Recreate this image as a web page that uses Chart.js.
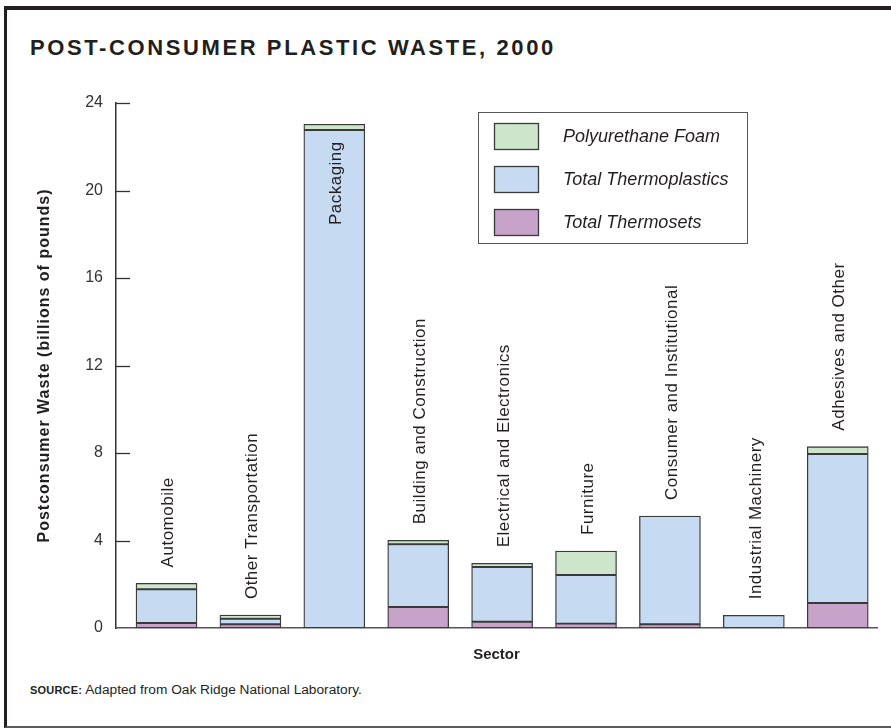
<!DOCTYPE html>
<html>
<head>
<meta charset="utf-8">
<title>Post-Consumer Plastic Waste, 2000</title>
<script src="https://cdn.jsdelivr.net/npm/chart.js@4.4.0/dist/chart.umd.min.js"></script>
<style>
  html, body { margin: 0; padding: 0; background: #fff; }
  body { width: 891px; height: 728px; position: relative; overflow: hidden;
         font-family: "Liberation Sans", Arial, sans-serif; color: #231f20; }
  .frame { position: absolute; left: 4px; top: 6px; right: 0; bottom: 0;
           border-top: 4px solid #231f20; border-left: 3px solid #231f20; border-bottom: 2px solid #5a5a5a; }
  .title { position: absolute; left: 30px; top: 37px; font-weight: bold; font-size: 22px;
           line-height: 22px; letter-spacing: 2.6px; white-space: nowrap; }
  .source { position: absolute; left: 30px; top: 683px; font-size: 13.7px; line-height: 14px; white-space: nowrap; }
  .source b { font-size: 11px; letter-spacing: 0.2px; }
  .wrap { position: absolute; left: 0; top: 0; width: 891px; height: 728px; }
</style>
</head>
<body>
<div class="frame"></div>
<div class="title">POST-CONSUMER PLASTIC WASTE, 2000</div>
<div class="source"><b>SOURCE:</b> Adapted from Oak Ridge National Laboratory.</div>
<div class="wrap"><canvas id="chart"></canvas></div>

<script>
// billions of pounds
const sectors = [
  "Automobile", "Other Transportation", "Packaging", "Building and Construction",
  "Electrical and Electronics", "Furniture", "Consumer and Institutional",
  "Industrial Machinery", "Adhesives and Other"
]
const thermosets     = [0.23, 0.17, 0,     0.96, 0.29, 0.20, 0.17, 0,    1.14]
const thermoplastics = [1.54, 0.25, 22.77, 2.87, 2.50, 2.22, 4.95, 0.58, 6.81]
const foam           = [0.27, 0.17, 0.26,  0.18, 0.17, 1.10, 0,    0,    0.34]
const yTicks = [0, 4, 8, 12, 16, 20, 24]
const yTitle = "Postconsumer Waste (billions of pounds)"

const ink = "#231f20"
const fontFamily = '"Liberation Sans", Arial, sans-serif'

// bars sit on a linear x axis so the first bar can start a bit right of the y axis
const points = arr => arr.map((v, i) => ({ x: i, y: v }))

// tick marks point into the plot, not outward
const inwardTicks = {
  id: "inwardTicks",
  afterDraw(chart, args, opts) {
    const y = chart.scales.y
    const ctx = chart.ctx
    ctx.save()
    ctx.strokeStyle = opts.color
    ctx.lineWidth = opts.width
    y.ticks.forEach(t => {
      if (t.value === 0) return
      const py = Math.round(y.getPixelForValue(t.value)) + 0.5
      ctx.beginPath()
      ctx.moveTo(chart.chartArea.left, py)
      ctx.lineTo(chart.chartArea.left + opts.length, py)
      ctx.stroke()
    })
    ctx.restore()
  }
}

// y axis title, drawn by hand so it can be letter-spaced like the original
const spacedYTitle = {
  id: "spacedYTitle",
  afterDraw(chart, args, opts) {
    const ctx = chart.ctx
    const area = chart.chartArea
    ctx.save()
    ctx.font = opts.font
    ctx.fillStyle = ink
    ctx.letterSpacing = opts.letterSpacing
    ctx.textAlign = "center"
    ctx.textBaseline = "middle"
    ctx.translate(opts.x, (area.top + area.bottom) / 2)
    ctx.rotate(-Math.PI / 2)
    ctx.fillText(yTitle, 0, 0)
    ctx.restore()
  }
}

// rotated sector names above each stack (inside it when there is no room)
const sectorLabels = {
  id: "sectorLabels",
  afterDatasetsDraw(chart, args, opts) {
    const ctx = chart.ctx
    const y = chart.scales.y
    const x = chart.scales.x
    ctx.save()
    ctx.font = opts.font
    ctx.fillStyle = opts.color
    ctx.letterSpacing = opts.letterSpacing
    ctx.textBaseline = "middle"
    sectors.forEach((name, i) => {
      const total = thermosets[i] + thermoplastics[i] + foam[i]
      const top = y.getPixelForValue(total)
      const cx = x.getPixelForValue(i) + opts.shiftX
      const w = ctx.measureText(name).width
      const inside = top - chart.chartArea.top < w + opts.gap
      ctx.save()
      if (inside) {
        ctx.translate(cx, top + opts.insideGap)
        ctx.rotate(-Math.PI / 2)
        ctx.textAlign = "right"
      } else {
        ctx.translate(cx, top - opts.gap)
        ctx.rotate(-Math.PI / 2)
        ctx.textAlign = "left"
      }
      ctx.fillText(name, 0, 0)
      ctx.restore()
    })
    ctx.restore()
  }
}

// boxed legend in the upper right of the plot
const boxLegend = {
  id: "boxLegend",
  afterDraw(chart, args, o) {
    const ctx = chart.ctx
    ctx.save()
    ctx.strokeStyle = o.borderColor
    ctx.lineWidth = 1
    ctx.strokeRect(o.x + 0.5, o.y + 0.5, o.w, o.h)
    const items = chart.data.datasets.slice().reverse()
    ctx.font = o.font
    ctx.textBaseline = "middle"
    items.forEach((ds, k) => {
      const sy = o.firstY + k * o.gap
      ctx.fillStyle = ds.backgroundColor
      ctx.fillRect(o.swatchX, sy, o.swatchW, o.swatchH)
      ctx.strokeStyle = ds.borderColor
      ctx.lineWidth = 1.3
      ctx.strokeRect(o.swatchX + 0.5, sy + 0.5, o.swatchW, o.swatchH)
      ctx.fillStyle = ink
      ctx.fillText(ds.label, o.textX, sy + o.swatchH / 2 + 1)
    })
    ctx.restore()
  }
}

Chart.defaults.font.family = fontFamily
Chart.defaults.color = ink

new Chart(document.getElementById("chart"), {
  type: "bar",
  data: {
    datasets: [
      { label: "Total Thermosets", data: points(thermosets), backgroundColor: "#c7a2c9", borderColor: "#3a3a3a" },
      { label: "Total Thermoplastics", data: points(thermoplastics), backgroundColor: "#c6daf1", borderColor: "#3a3a3a" },
      { label: "Polyurethane Foam", data: points(foam), backgroundColor: "#cde6cb", borderColor: "#3a3a3a" }
    ]
  },
  plugins: [inwardTicks, spacedYTitle, sectorLabels, boxLegend],
  options: {
    responsive: true,
    maintainAspectRatio: false,
    animation: false,
    datasets: {
      bar: { barThickness: 61, borderWidth: 1.3, borderSkipped: false }
    },
    layout: { padding: { left: 20, right: 14, top: 103, bottom: 0 } },
    plugins: {
      legend: { display: false },
      tooltip: {
        callbacks: {
          title: items => sectors[items[0].parsed.x]
        }
      },
      inwardTicks: { color: "#333", width: 1.3, length: 14 },
      spacedYTitle: { x: 45, font: "bold 16px " + fontFamily, letterSpacing: "1px" },
      sectorLabels: {
        font: "17px " + fontFamily, color: ink, letterSpacing: "0.5px",
        gap: 16, insideGap: 17, shiftX: 2
      },
      boxLegend: {
        x: 478, y: 112, w: 269, h: 131, borderColor: "#555",
        swatchX: 494, swatchW: 44, swatchH: 26, firstY: 123, gap: 43, textX: 563,
        font: "italic 18px " + fontFamily
      }
    },
    scales: {
      x: {
        type: "linear",
        stacked: true,
        offset: false,
        min: -0.602,
        max: 8.468,
        ticks: { display: false },
        grid: { display: false, drawTicks: false, offset: false },
        border: { color: "#555", width: 1.5 },
        title: {
          display: true, text: "Sector", color: ink,
          font: { size: 15, weight: "bold" },
          padding: { top: 0, bottom: 64 }
        },
        afterFit: s => { s.height = 100 }
      },
      y: {
        stacked: true,
        min: 0,
        max: 24,
        afterBuildTicks: s => { s.ticks = yTicks.map(v => ({ value: v })) },
        ticks: { color: "#333", font: { size: 16 }, padding: 13 },
        grid: { display: false, drawTicks: false },
        border: { color: "#333", width: 1.5 },
        title: { display: false },
        afterFit: s => { s.width = 96 }
      }
    }
  }
})
</script>
</body>
</html>
